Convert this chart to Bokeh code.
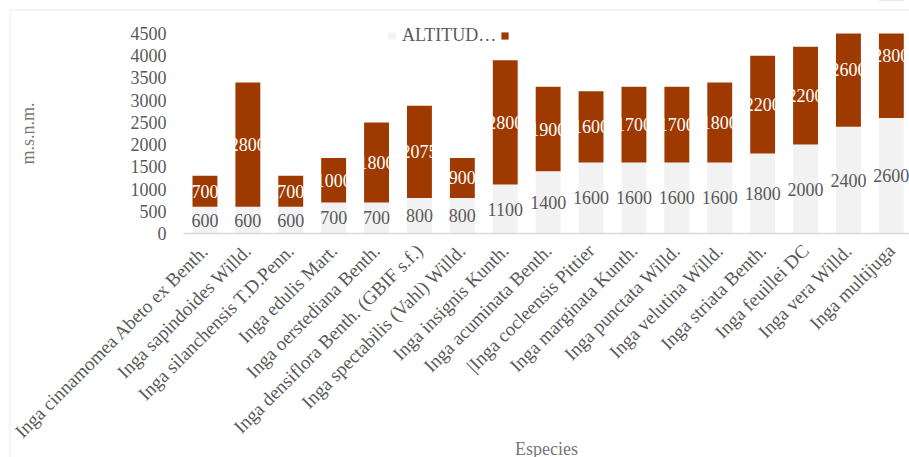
from bokeh.plotting import figure
from bokeh.models import (Range1d, FixedTicker, Legend, LegendItem, BoxAnnotation,
                          Label, LinearAxis, ColumnDataSource)
from bokeh.core.properties import value
from bokeh.embed import file_html
from bokeh.resources import INLINE
import math

# Species and their altitude ranges (m.s.n.m.)
especies = [
    "Inga cinnamomea Abeto ex Benth.",
    "Inga sapindoides Willd.",
    "Inga silanchensis T.D.Penn.",
    "Inga edulis Mart.",
    "Inga oerstediana Benth.",
    "Inga densiflora Benth. (GBIF s.f.)",
    "Inga spectabilis (Vahl) Willd.",
    "Inga insignis Kunth.",
    "Inga acuminata Benth.",
    "|Inga cocleensis Pittier",
    "Inga marginata Kunth.",
    "Inga punctata Willd.",
    "Inga velutina Willd.",
    "Inga striata Benth.",
    "Inga feuillei DC",
    "Inga vera Willd.",
    "Inga multijuga",
]
altitud_min = [600, 600, 600, 700, 700, 800, 800, 1100, 1400, 1600, 1600, 1600, 1600, 1800, 2000, 2400, 2600]
rango = [700, 2800, 700, 1000, 1800, 2075, 900, 2800, 1900, 1600, 1700, 1700, 1800, 2200, 2200, 2600, 2800]
y_ticks = [0, 500, 1000, 1500, 2000, 2500, 3000, 3500, 4000, 4500]
Y_MAX = 4500

FONT = "Liberation Serif"
GRAY = "#595959"
TITLE_GRAY = "#767676"
BORDER = "#d9d9d9"
LOW_COLOR = "#f2f2f2"
HIGH_COLOR = "#9e3a00"

# Page geometry (pixels): the plotting frame covers the whole canvas, and the
# chart's plot area sits inside it.
W, H = 909, 457
AREA_LEFT, AREA_TOP, AREA_BOTTOM = 183, 33, 233
CAT_PX = 42.9                       # width of one category slot
FIRST_CENTER_PX = AREA_LEFT + CAT_PX / 2
PX_PER_UNIT = (AREA_BOTTOM - AREA_TOP) / Y_MAX


def x_at(px):
    return (px - FIRST_CENTER_PX) / CAT_PX


def y_at(py):
    return (AREA_BOTTOM - py) / PX_PER_UNIT


idx = list(range(len(especies)))
src = ColumnDataSource(dict(
    x=idx,
    low=altitud_min,
    top=[a + b for a, b in zip(altitud_min, rango)],
    low_mid=[a / 2 for a in altitud_min],
    high_mid=[a + b / 2 for a, b in zip(altitud_min, rango)],
    low_txt=[str(a) for a in altitud_min],
    high_txt=[str(b) for b in rango],
))

p = figure(width=W, height=H, output_backend="svg", toolbar_location=None,
           x_range=Range1d(x_at(0), x_at(W)), y_range=Range1d(y_at(H), y_at(0)),
           x_axis_location=None, y_axis_location=None,
           min_border=0, min_border_left=0, min_border_right=0,
           min_border_top=0, min_border_bottom=0)
p.outline_line_color = None
p.xgrid.visible = False
p.ygrid.visible = False
p.background_fill_color = "white"
p.border_fill_color = "white"

low_r = p.vbar(x="x", bottom=0, top="low", width=0.58, source=src,
               fill_color=LOW_COLOR, line_color=None)
high_r = p.vbar(x="x", bottom="low", top="top", width=0.58, source=src,
                fill_color=HIGH_COLOR, line_color=None)

p.text(x="x", y="low_mid", text="low_txt", source=src, text_align="center",
       text_baseline="middle", text_color=GRAY, text_font=value(FONT),
       text_font_size="18px")
p.text(x="x", y="high_mid", text="high_txt", source=src, text_align="center",
       text_baseline="middle", text_color="white", text_font=value(FONT),
       text_font_size="18px")

# the value axis stops at 4500: anything above it is hidden
p.add_layout(BoxAnnotation(bottom=Y_MAX, top=y_at(-60), left=x_at(AREA_LEFT),
                           right=x_at(W + 60), fill_color="white", fill_alpha=1,
                           line_color=None, level="annotation"))

# category axis along y = 0
xa = LinearAxis(fixed_location=0, bounds=(x_at(AREA_LEFT), x_at(W)))
xa.ticker = FixedTicker(ticks=idx)
xa.major_label_overrides = {i: n for i, n in zip(idx, especies)}
xa.major_label_orientation = math.pi / 4
xa.major_tick_line_color = None
xa.minor_tick_line_color = None
xa.major_tick_out = 0
xa.major_tick_in = 0
xa.axis_line_color = BORDER
xa.axis_line_width = 1.5
xa.major_label_text_font = FONT
xa.major_label_text_font_size = "19px"
xa.major_label_text_color = GRAY
xa.major_label_standoff = 14
p.add_layout(xa, "below")

# value axis at the left edge of the plot area
ya = LinearAxis(fixed_location=x_at(AREA_LEFT))
ya.ticker = FixedTicker(ticks=y_ticks)
ya.axis_line_color = None
ya.major_tick_line_color = None
ya.minor_tick_line_color = None
ya.major_tick_out = 0
ya.major_tick_in = 0
ya.major_label_text_font = FONT
ya.major_label_text_font_size = "18px"
ya.major_label_text_color = GRAY
ya.major_label_standoff = 17
p.add_layout(ya, "left")

# axis titles
p.add_layout(Label(x=x_at(546), y=y_at(448), text="Especies",
                   text_align="center", text_baseline="middle",
                   text_font=FONT, text_font_size="18px",
                   text_color=TITLE_GRAY, level="overlay"))
p.add_layout(Label(x=x_at(27), y=y_at(133), text="m.s.n.m.", angle=math.pi / 2,
                   text_align="center", text_baseline="middle",
                   text_font=FONT, text_font_size="18px",
                   text_color=TITLE_GRAY, level="overlay"))

legend = Legend(items=[LegendItem(label="ALTITUD…", renderers=[low_r]),
                       LegendItem(label=" ", renderers=[high_r])],
                orientation="horizontal", location=(387, H - 46),
                glyph_width=9, glyph_height=9, label_standoff=6, spacing=4,
                padding=0, margin=0, border_line_color=None,
                background_fill_alpha=0, level="overlay",
                label_text_font=FONT, label_text_font_size="18px",
                label_text_color=GRAY)
p.add_layout(legend)

# light gray chart border (its right and bottom edges lie past the page)
p.add_layout(BoxAnnotation(left=x_at(9.5), right=x_at(W + 20), top=y_at(9.5),
                           bottom=y_at(H + 20), fill_alpha=0, line_color=BORDER,
                           line_width=2, level="overlay"))

open("out.html", "w").write(file_html(p, INLINE))
